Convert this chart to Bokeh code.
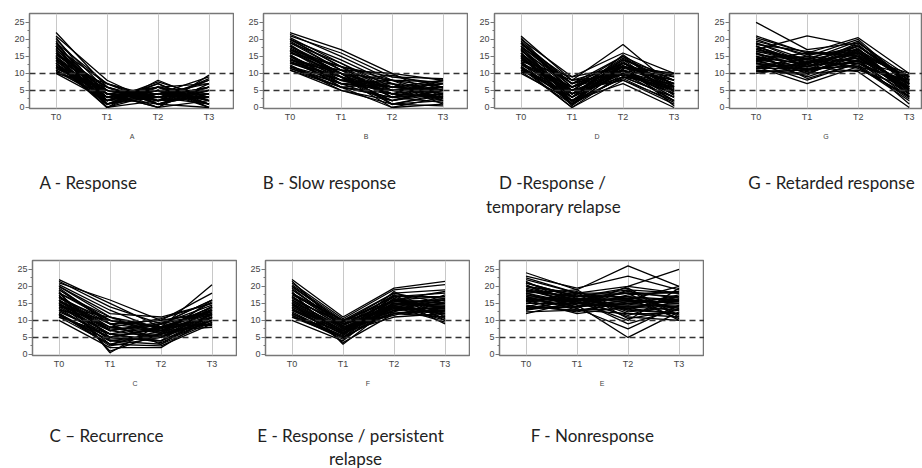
from bokeh.plotting import figure
from bokeh.layouts import column, row
from bokeh.models import Span, FixedTicker, ColumnDataSource
from bokeh.core.properties import value
from bokeh.embed import file_html
from bokeh.resources import INLINE

TIMES = [0, 1, 2, 3]
TICK_LABELS = ["T0", "T1", "T2", "T3"]
Y_TICKS = [0, 5, 10, 15, 20, 25]
Y_MINOR = [2.5, 7.5, 12.5, 17.5, 22.5]
THRESHOLDS = [5, 10]

# ---- Panel A : Response ----
A_T0 = [22, 21, 20, 19, 18, 17, 16, 15, 14, 13, 12, 11, 10, 19.5, 18.5, 17.5, 16.5, 15.5, 14.5, 13.5, 12.5, 11.5, 10.5, 20.5, 16, 14, 12, 11, 13, 15, 18, 10,
        17, 15.5, 13, 11.5, 19, 16, 14.5, 12, 10.5, 18, 13.5, 15]
A_T1 = [6, 8, 5, 7, 2, 4, 3, 1, 6, 0, 5, 3, 2, 0, 4, 7, 1, 6, 2, 4, 1, 5, 3, 2, 5, 0, 7, 2, 3, 4, 1, 6,
        3, 5, 1, 4, 2, 6, 0, 3, 5, 1, 4, 2]
A_T2 = [2, 1, 3, 2, 7.5, 5, 6, 4, 0, 8, 4, 1, 3, 6, 2, 3, 7, 1, 5, 0, 6, 2, 4, 5, 3, 2, 1, 7, 5, 6, 4, 2,
        4, 2, 5, 3, 6, 1, 4, 5, 2, 3, 0, 6]
A_T3 = [5, 4, 8, 6, 3, 1, 2, 7, 9.5, 2, 3, 6, 4, 0, 8.5, 1, 0, 5, 2, 7, 4, 3, 9, 1, 6, 3, 0, 1, 5, 2, 4, 8,
        3, 5, 2, 6, 1, 4, 5, 0, 3, 6, 2, 7]

# ---- Panel B : Slow response ----
B_T0 = [22, 21, 21.5, 20, 20, 19, 18, 17, 16, 15, 14, 13, 12, 11, 18.5, 17.5, 16.5, 15.5, 14.5, 13.5, 12.5, 11.5, 19.5, 16, 14, 12, 15, 17, 13, 18, 20.5, 11,
        17, 15, 13.5, 12, 19, 16.5, 14, 11.5, 18, 15.5, 13, 20]
B_T1 = [17, 16, 15, 14, 12, 13, 11, 12, 10, 9, 11, 8, 7, 6, 9, 10, 8, 7, 6, 9, 5, 7, 11, 12, 10, 8, 6, 9, 11, 10, 13, 5,
        10, 8, 7, 6, 11, 9, 8, 6, 10, 7, 9, 12]
B_T2 = [10, 9, 8, 7, 9, 6, 10, 5, 8, 4, 3, 7, 2, 0, 6, 1, 9.5, 5, 3, 0, 2, 6, 4, 8, 1, 5, 7, 2, 4, 3, 5, 1,
        6, 4, 5, 3, 7, 2, 6, 4, 5, 8, 1, 3]
B_T3 = [8, 7, 6, 5, 8.5, 4, 3, 7, 2, 6, 8, 1, 5, 3, 8, 4, 6, 2, 7, 1, 4, 5, 3, 7.5, 0.5, 6, 2.5, 5.5, 8, 1.5, 4.5, 3.5,
        5, 3, 6, 4, 2, 5, 7, 3, 6, 4, 2, 6]

# ---- Panel D : Response / temporary relapse ----
D_T0 = [21, 20, 19.5, 19, 18, 17, 16, 15, 14, 13, 12, 11, 10, 18.5, 17.5, 16.5, 15.5, 14.5, 13.5, 12.5, 11.5, 10.5, 20.5, 16, 14, 12, 19, 15, 13, 17, 11, 18,
        17, 15, 13, 11.5, 19, 16, 14.5, 12, 18, 15.5, 13.5, 10.5]
D_T1 = [8, 9, 7, 5, 6, 3, 4, 2, 6, 1, 0, 3, 2, 8, 5, 7, 1, 4, 9, 5, 0, 6, 4, 3, 8, 2, 7, 0.5, 6, 2, 4, 1.5,
        4, 3, 5, 2, 6, 1, 4, 3, 7, 5, 2, 1]
D_T2 = [18.5, 16, 15, 14, 13, 15.5, 12, 11, 10, 9, 8, 10, 7, 12, 14.5, 11, 13, 9, 12, 8, 10, 11, 13, 14, 9.5, 12.5, 10.5, 11.5, 15, 8.5, 13.5, 12,
        11, 12, 10, 13, 12, 11, 9, 10, 13, 14, 11, 9]
D_T3 = [6, 10, 8, 9, 7, 5, 10, 4, 6, 3, 1, 2, 0, 9.5, 6, 8, 5, 7, 10, 2, 4, 3, 7, 8, 5, 0.5, 6.5, 9, 4.5, 1.5, 3.5, 5.5,
        5, 7, 4, 6, 8, 3, 6, 5, 7, 4, 2, 3]

# ---- Panel G : Retarded response ----
G_T0 = [25, 17, 20.5, 20, 19, 18, 17.5, 16, 15, 14, 13, 12, 11, 10, 18.5, 16.5, 15.5, 14.5, 13.5, 12.5, 11.5, 10.5, 19.5, 17, 15, 13, 21, 16, 12, 18, 14, 11,
        16, 14.5, 13, 12, 17, 15, 18, 11.5, 14, 16.5, 19, 13.5]
G_T1 = [17, 21, 16, 15, 14, 13, 12, 11, 10, 9, 8, 7, 10, 12, 16.5, 13, 14, 11, 15, 12, 13, 11, 15.5, 13.5, 12.5, 10.5, 16, 8.5, 14.5, 12, 16, 9.5,
        12, 13, 11, 12.5, 14, 10, 13, 11.5, 12, 14.5, 13, 11]
G_T2 = [19, 18, 20.5, 20, 19.5, 18, 17, 16, 15, 14, 13, 12, 11, 10.5, 15, 14.5, 12, 17.5, 13.5, 16.5, 18.5, 12.5, 17, 15.5, 19, 14, 16, 13, 11.5, 18, 15, 17,
        15, 16, 14, 13, 17, 15.5, 16, 12, 14.5, 18, 16.5, 13.5]
G_T3 = [9, 8, 10, 7, 6, 8.5, 5, 9, 4, 3, 7, 2, 6, 0, 10, 5, 8, 3, 9.5, 4.5, 6.5, 2.5, 7.5, 5.5, 8, 1, 9, 6, 3.5, 7, 4, 5,
        6, 5, 7, 4, 8, 5.5, 6, 3, 7, 8, 4, 5.5]

# ---- Panel C : Recurrence ----
C_T0 = [22, 21, 21.5, 20, 19, 18, 17, 16, 15, 14, 13, 12, 11, 10, 18.5, 17.5, 16.5, 15.5, 14.5, 13.5, 12.5, 11.5, 20.5, 16, 14, 12, 19.5, 15, 13, 17, 11, 18,
        17, 15, 13, 11.5, 19, 16, 14.5, 12, 18, 20, 13.5, 15.5]
C_T1 = [15, 16, 14, 12, 10, 11, 9, 8, 7, 6, 5, 4, 3, 2, 0.5, 1, 10, 9, 8, 7, 6, 5, 13, 4, 11, 2.5, 9, 3, 10, 7, 6, 5,
        8, 6, 5, 4, 9, 7, 6, 3, 10, 11, 4.5, 7.5]
C_T2 = [8, 10, 9, 11, 7, 6, 10, 5, 9, 4, 8, 3, 7, 2, 9, 6, 8, 3, 10.5, 5, 9, 4, 7, 6, 8, 5, 10, 2.5, 6.5, 9.5, 3.5, 7.5,
        7, 6, 8, 5, 7, 9, 4, 6, 8, 7.5, 5.5, 6.5]
C_T3 = [20.5, 18, 16, 15, 14, 13, 12, 11, 16, 10, 9, 12, 8, 11, 14.5, 10, 13, 9.5, 15, 12, 8.5, 14, 11, 16, 10.5, 13.5, 12.5, 9, 15.5, 11.5, 10, 14,
        12, 11, 13, 10, 14, 12, 11, 9, 13, 12.5, 10, 11.5]

# ---- Panel F (axis) : Response / persistent relapse ----
F_T0 = [22, 21, 20.5, 20, 19, 18, 17, 16, 15, 14, 13, 12, 11, 10, 18.5, 17.5, 16.5, 15.5, 14.5, 13.5, 12.5, 11.5, 19.5, 16, 14, 12, 21.5, 15, 13, 17, 11, 18,
        17, 15, 13, 11.5, 19, 16, 14.5, 12, 18, 20, 13.5, 15.5]
F_T1 = [11, 10.5, 10, 9.5, 9, 8.5, 8, 7.5, 7, 6.5, 6, 5.5, 5, 4, 3, 10, 9, 8, 7, 6, 5, 4.5, 8, 9.5, 6.5, 5.5, 7.5, 3.5, 8.5, 6, 7, 10,
        8, 7, 6, 5, 9, 7.5, 6.5, 5, 8.5, 9.5, 6, 7]
F_T2 = [19.5, 19, 18, 17, 16, 15, 14, 13, 12, 11, 18.5, 17.5, 16.5, 15.5, 14.5, 13.5, 12.5, 11.5, 17, 16, 15, 14, 12, 18, 13, 16.5, 15, 12, 17.5, 14.5, 13.5, 16,
        15, 14, 16, 13, 15.5, 14.5, 13.5, 12.5, 16, 17, 14, 15]
F_T3 = [21.5, 20.5, 19, 18, 17, 16, 15, 14, 13, 12, 11, 10, 9, 14.5, 16.5, 12.5, 17.5, 15.5, 10.5, 13.5, 11.5, 9.5, 13, 15, 16, 12, 14, 11, 16.5, 10, 12.5, 18.5,
        14, 13, 15, 12, 16, 14.5, 13.5, 11, 15, 17, 12, 14]

# ---- Panel E (axis) : Nonresponse ----
E_T0 = [24, 23, 22, 21, 20, 19, 18, 17, 16, 15, 14, 13, 12, 21.5, 20.5, 19.5, 18.5, 17.5, 16.5, 15.5, 14.5, 13.5, 12.5, 22.5, 19, 16, 14, 18, 21, 17, 13, 20,
        17, 15, 13.5, 19, 16, 18, 20, 14, 17.5, 15.5, 21, 16.5]
E_T1 = [19, 19.5, 18, 17, 16, 15, 14, 13, 12, 18.5, 17.5, 16.5, 15.5, 14.5, 13.5, 16, 17, 15, 14, 18, 12.5, 16, 13, 18, 15.5, 17, 14, 19, 16.5, 13.5, 15, 17.5,
        16, 15, 14, 17, 16.5, 15, 18, 13, 14.5, 16, 17, 15.5]
E_T2 = [26, 23, 20, 19, 18, 17, 16, 15, 14, 13, 12, 11, 10, 5, 7.5, 9, 19.5, 18.5, 17.5, 16.5, 15.5, 14.5, 13.5, 12.5, 11.5, 18, 20, 10.5, 16, 19, 14, 15,
        16, 14, 15, 17, 13, 15.5, 18, 12, 14.5, 16.5, 17, 13.5]
E_T3 = [20, 19, 25, 18, 17, 16, 15, 14, 13, 12, 11, 10, 19.5, 12.5, 14.5, 13.5, 11.5, 16.5, 18.5, 10.5, 15.5, 17.5, 12, 14, 16, 10, 18, 13, 20, 11, 15, 17,
        15, 14, 16, 13, 17, 15.5, 18, 12, 14.5, 16, 13.5, 17]

AXIS_LETTERS = ["A", "B", "D", "G", "C", "F", "E"]
TOP_CAPTIONS = ["A - Response", "B - Slow response", "D -Response /", "temporary relapse",
                "G - Retarded response"]
BOTTOM_CAPTIONS = ["C \u2013 Recurrence", "E - Response / persistent", "relapse",
                   "F - Nonresponse"]

# caption placement (pixels inside the caption strips)
TOP_CAP_X = [88, 329, 552, 553, 831]
TOP_CAP_Y = [65, 65, 65, 41, 65]
BOT_CAP_X = [106, 350, 355, 592]
BOT_CAP_Y = [33, 33, 10, 33]

FRAME_H = 95
PANEL_H = 145
CAP_FONT = "Lato"


def panel(t0, t1, t2, t3, letter, width, left, frame_w, x_end=3.5):
    top = 13
    p = figure(width=width, height=PANEL_H, x_range=(-0.52, x_end), y_range=(-0.3, 27.6),
               output_backend="svg", toolbar_location=None,
               min_border_left=left, min_border_top=top,
               min_border_right=width - left - frame_w,
               min_border_bottom=PANEL_H - top - FRAME_H)
    xs = [TIMES for _ in t0]
    ys = [list(v) for v in zip(t0, t1, t2, t3)]
    p.multi_line(xs, ys, line_color="black", line_width=1.3, line_alpha=1.0)
    for v in THRESHOLDS:
        p.add_layout(Span(location=v, dimension="width", line_color="#333333",
                          line_width=1.6, line_dash="6 4"))
    p.xaxis.ticker = FixedTicker(ticks=TIMES)
    p.xaxis.major_label_overrides = dict(zip(TIMES, TICK_LABELS))
    p.xaxis.major_tick_line_color = None
    p.xaxis.major_tick_out = 0
    p.xaxis.major_tick_in = 0
    p.xaxis.minor_tick_line_color = None
    p.xaxis.minor_tick_out = 0
    p.xaxis.axis_line_color = None
    p.xaxis.major_label_text_font_size = "9px"
    p.xaxis.major_label_text_color = "#444444"
    p.xaxis.major_label_standoff = 3
    p.xaxis.axis_label = letter
    p.xaxis.axis_label_text_font_size = "7px"
    p.xaxis.axis_label_text_font_style = "normal"
    p.xaxis.axis_label_text_color = "#444444"
    p.xaxis.axis_label_standoff = 8
    p.yaxis.ticker = FixedTicker(ticks=Y_TICKS, minor_ticks=Y_MINOR)
    p.yaxis.major_label_text_font_size = "9px"
    p.yaxis.major_label_text_color = "#444444"
    p.yaxis.major_tick_in = 0
    p.yaxis.major_tick_out = 4
    p.yaxis.minor_tick_in = 0
    p.yaxis.minor_tick_out = 2
    p.yaxis.major_label_standoff = 1
    p.yaxis.axis_line_color = "#777777"
    p.yaxis.major_tick_line_color = "#777777"
    p.yaxis.minor_tick_line_color = "#777777"
    p.xgrid.ticker = FixedTicker(ticks=TIMES)
    p.xgrid.grid_line_color = "#c8c8c8"
    p.ygrid.grid_line_color = None
    p.outline_line_color = "#777777"
    p.outline_line_width = 1.5
    return p


def caption_strip(texts, xs, ys, height):
    c = figure(width=922, height=height, x_range=(0, 922), y_range=(0, height),
               output_backend="svg", toolbar_location=None,
               min_border_left=0, min_border_right=0, min_border_top=0, min_border_bottom=0,
               x_axis_location=None, y_axis_location=None)
    c.xgrid.grid_line_color = None
    c.ygrid.grid_line_color = None
    c.outline_line_color = None
    src = ColumnDataSource(dict(x=xs, y=ys, text=texts))
    c.text(x="x", y="y", text="text", source=src, text_align="center",
           text_baseline="middle", text_font=value(CAP_FONT), text_font_size="17px",
           text_color="#222222")
    return c


pA = panel(A_T0, A_T1, A_T2, A_T3, AXIS_LETTERS[0], 234, 29, 205)
pB = panel(B_T0, B_T1, B_T2, B_T3, AXIS_LETTERS[1], 234, 29, 205)
pD = panel(D_T0, D_T1, D_T2, D_T3, AXIS_LETTERS[2], 231, 26, 205)
pG = panel(G_T0, G_T1, G_T2, G_T3, AXIS_LETTERS[3], 223, 30, 193, x_end=3.26)

pC = panel(C_T0, C_T1, C_T2, C_T3, AXIS_LETTERS[4], 237, 32, 205)
pF = panel(F_T0, F_T1, F_T2, F_T3, AXIS_LETTERS[5], 233, 28, 205)
pE = panel(E_T0, E_T1, E_T2, E_T3, AXIS_LETTERS[6], 234, 29, 205)

top_caps = caption_strip(TOP_CAPTIONS, TOP_CAP_X, TOP_CAP_Y, 102)
bot_caps = caption_strip(BOTTOM_CAPTIONS, BOT_CAP_X, BOT_CAP_Y, 76)

layout = column(row(pA, pB, pD, pG), top_caps, row(pC, pF, pE), bot_caps)
open("out.html", "w").write(file_html(layout, INLINE))
